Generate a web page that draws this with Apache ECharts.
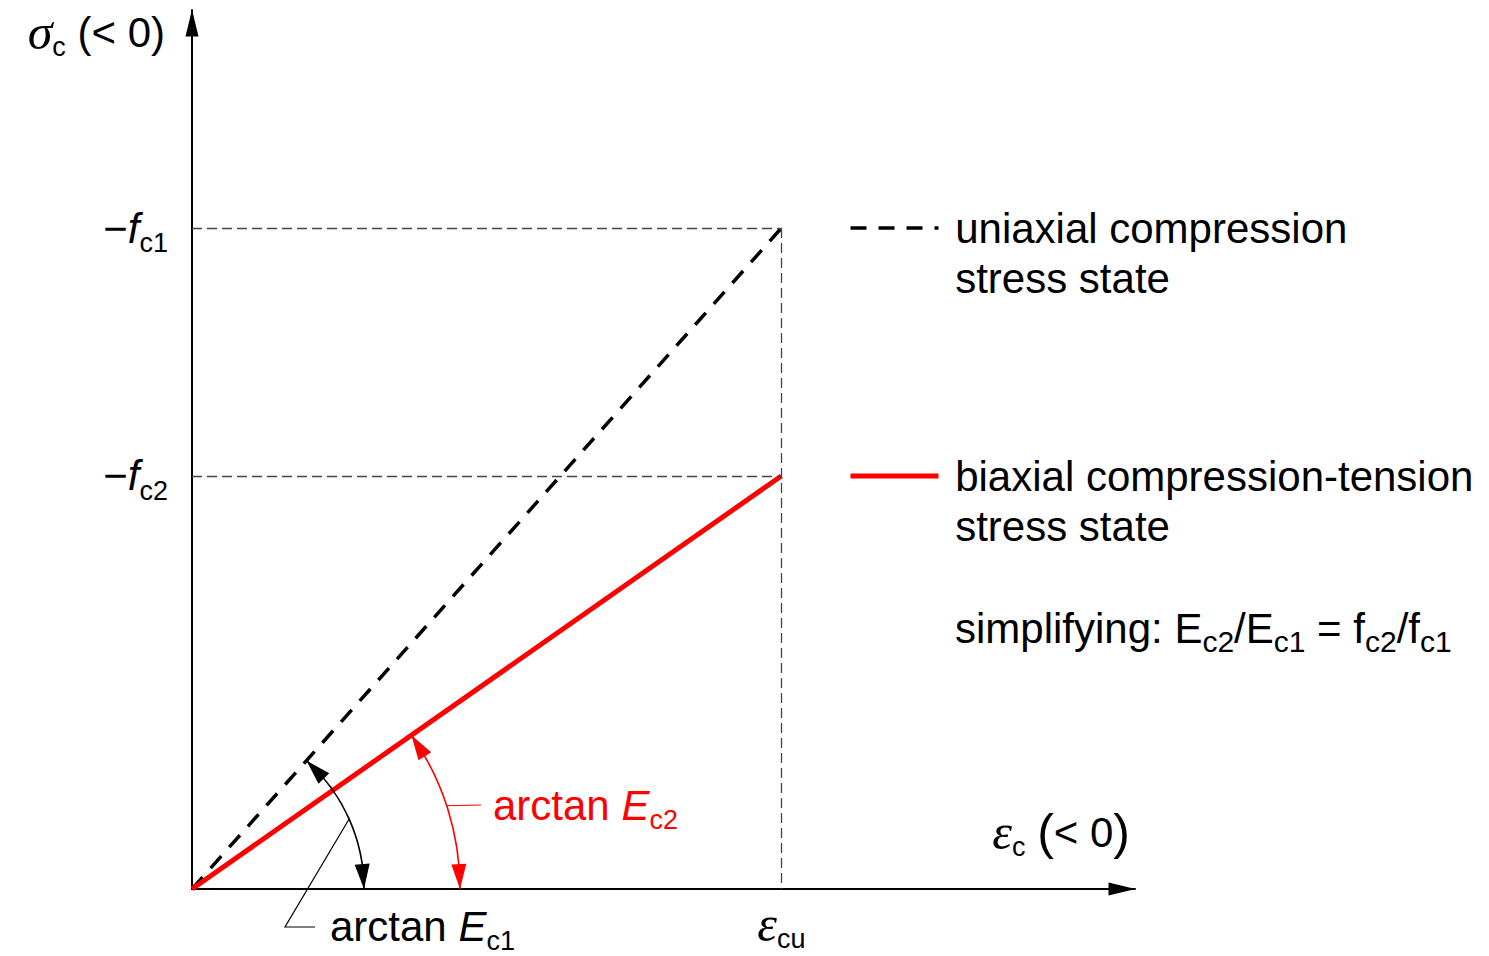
<!DOCTYPE html>
<html>
<head>
<meta charset="utf-8">
<title>Concrete stress-strain: uniaxial vs biaxial</title>
<script src="https://cdn.jsdelivr.net/npm/echarts@6/dist/echarts.min.js"></script>
<style>
  html, body { margin: 0; padding: 0; background: #ffffff; }
  #chart { width: 1489px; height: 956px; }
</style>
</head>
<body>
<div id="chart"></div>
<script>
// Normalised quantities: strain relative to eps_cu, stress relative to f_c1
const strainLimit = 1;          // eps_cu
const strengthUniaxial = 1;     // f_c1
const strengthBiaxial = 0.625;  // f_c2

const uniaxialCurve = [[0, 0], [strainLimit, strengthUniaxial]];
const biaxialCurve = [[0, 0], [strainLimit, strengthBiaxial]];

const seriesNames = [
  'uniaxial compression\nstress state',
  'biaxial compression-tension\nstress state'
];

const yTickValues = [strengthBiaxial, strengthUniaxial];
const yTickLabels = ['{m|\u2212}{i|f}{s|c2}', '{m|\u2212}{i|f}{s|c1}'];
const xTickValues = [strainLimit];
const xTickLabels = ['{g|\u03b5}{s|cu}'];

const angleLabels = ['{n|arctan }{i|E}{s|c1}', '{n|arctan }{i|E}{s|c2}'];
const noteText = 'simplifying: E{S|c2}/E{S|c1} = f{S|c2}/f{S|c1}';

const X_MAX = 1.6;
const Y_MAX = 1.33;

const SANS = '"Liberation Sans", Arial, Helvetica, sans-serif';
const GREEK = '"Liberation Serif", "Times New Roman", serif';
const RED = '#ff0000';

function richSet(color) {
  return {
    n: { fontFamily: SANS, fontSize: 42, color: color },
    m: { fontFamily: SANS, fontSize: 42, color: color },
    p: { fontFamily: SANS, fontSize: 50, color: color },
    i: { fontFamily: SANS, fontSize: 42, fontStyle: 'italic', color: color },
    g: { fontFamily: GREEK, fontSize: 50, fontStyle: 'italic', color: color },
    s: { fontFamily: SANS, fontSize: 27, color: color, padding: [30, 0, 0, 0] },
    S: { fontFamily: SANS, fontSize: 30, color: color, padding: [26, 0, 0, 0] }
  };
}

// Angle markers: arc radius (px), leader geometry (px offsets from origin), label placement
const angleMarkStyle = [
  { color: '#000000', radius: 172, leaderAngle: -24, leader: [[93, 38], [123, 38]], labelAt: [138, 37] },
  { color: RED, radius: 268, leaderAngle: -18.1, leader: [[289, -84]], labelAt: [301, -84] }
];

function arrowHead(o, r, angle, dir, color) {
  const L = 25, W = 7.5;
  const tip = [o[0] + r * Math.cos(angle), o[1] + r * Math.sin(angle)];
  const ba = angle - dir * L / r;
  const base = [o[0] + r * Math.cos(ba), o[1] + r * Math.sin(ba)];
  const dx = tip[0] - base[0], dy = tip[1] - base[1];
  const len = Math.sqrt(dx * dx + dy * dy);
  const px = -dy / len * W, py = dx / len * W;
  return {
    type: 'polygon',
    shape: { points: [tip, [base[0] + px, base[1] + py], [base[0] - px, base[1] - py]] },
    style: { fill: color, stroke: null }
  };
}

function renderAngleMark(params, api) {
  const st = angleMarkStyle[params.dataIndex];
  const o = api.coord([0, 0]);
  const p = api.coord([api.value(0), api.value(1)]);
  const a0 = Math.atan2(p[1] - o[1], p[0] - o[0]);
  const r = st.radius;
  const la = st.leaderAngle * Math.PI / 180;
  const leaderPts = [[o[0] + r * Math.cos(la), o[1] + r * Math.sin(la)]]
    .concat(st.leader.map(function (d) { return [o[0] + d[0], o[1] + d[1]]; }));
  return {
    type: 'group',
    children: [
      {
        type: 'arc',
        shape: { cx: o[0], cy: o[1], r: r, startAngle: a0, endAngle: 0, clockwise: true },
        style: { stroke: st.color, lineWidth: 1.6, fill: null }
      },
      arrowHead(o, r, a0, -1, st.color),
      arrowHead(o, r, 0, 1, st.color),
      {
        type: 'polyline',
        shape: { points: leaderPts },
        style: { stroke: st.color, lineWidth: 1.2, fill: null }
      },
      {
        type: 'text',
        x: o[0] + st.labelAt[0],
        y: o[1] + st.labelAt[1],
        style: {
          text: angleLabels[params.dataIndex],
          rich: richSet(st.color),
          fill: st.color,
          align: 'left',
          verticalAlign: 'middle'
        }
      }
    ]
  };
}

const chart = echarts.init(document.getElementById('chart'), null, { renderer: 'svg' });

chart.setOption({
  animation: false,
  backgroundColor: '#ffffff',
  title: {
    text: noteText,
    left: 955,
    top: 600,
    padding: 0,
    textStyle: {
      fontFamily: SANS, fontSize: 42, fontWeight: 'normal', color: '#000000',
      rich: richSet('#000000')
    }
  },
  legend: {
    orient: 'vertical',
    left: 848,
    top: 153,
    padding: 0,
    itemWidth: 88,
    itemHeight: 4,
    itemGap: 98,
    selectedMode: false,
    // blank first line keeps the icon level with the first text line;
    // a leading no-break space widens the gap after the icon
    formatter: function (name) {
      return '\u00a0\n' + name.split('\n').map(function (s) { return '\u00a0' + s; }).join('\n');
    },
    itemStyle: { opacity: 0 },
    textStyle: {
      fontFamily: SANS, fontSize: 42, lineHeight: 50, color: '#000000'
    },
    data: [
      { name: seriesNames[0], lineStyle: { width: 3.5 } },
      { name: seriesNames[1], lineStyle: { width: 5 } }
    ]
  },
  grid: {
    left: 192, right: 354, top: 10, bottom: 67,
    containLabel: false,
    outerBoundsMode: 'none'
  },
  xAxis: {
    type: 'value',
    min: 0,
    max: X_MAX,
    name: '{g|\u03b5}{s|c}{n|\u00a0}{p|(}{n|< 0}{p|)}',
    nameLocation: 'end',
    nameGap: -5,
    nameMoveOverlap: false,
    nameTextStyle: {
      align: 'right', verticalAlign: 'middle', padding: [0, 0, 114, 0],
      rich: richSet('#000000')
    },
    splitLine: { show: false },
    axisTick: { show: false },
    axisLine: {
      onZero: false,
      symbol: ['none', 'triangle'],
      symbolSize: [13, 27],
      symbolOffset: [0, -13],
      lineStyle: { color: '#000000', width: 2 }
    },
    axisLabel: {
      customValues: xTickValues,
      formatter: function (v) { return xTickLabels[xTickValues.indexOf(v)] || ''; },
      margin: 6,
      rich: richSet('#000000')
    }
  },
  yAxis: {
    type: 'value',
    min: 0,
    max: Y_MAX,
    name: '{g|\u03c3}{s|c}{n|\u00a0(< 0)}',
    nameLocation: 'end',
    nameGap: -22,
    nameMoveOverlap: false,
    nameTextStyle: {
      align: 'right', verticalAlign: 'middle', padding: [0, 27, 0, 0],
      rich: richSet('#000000')
    },
    splitLine: { show: false },
    axisTick: { show: false },
    axisLine: {
      onZero: false,
      symbol: ['none', 'triangle'],
      symbolSize: [13, 27],
      symbolOffset: [0, -13],
      lineStyle: { color: '#000000', width: 2 }
    },
    axisLabel: {
      customValues: yTickValues,
      formatter: function (v) { return yTickLabels[yTickValues.indexOf(v)] || ''; },
      margin: 24,
      rich: richSet('#000000')
    }
  },
  series: [
    {
      name: 'guides',
      type: 'line',
      data: [],
      z: 1,
      silent: true,
      markLine: {
        silent: true,
        symbol: 'none',
        label: { show: false },
        lineStyle: { color: '#444444', width: 1.3, type: [10, 5] },
        data: [
          [{ coord: [0, strengthUniaxial] }, { coord: [strainLimit, strengthUniaxial] }],
          [{ coord: [0, strengthBiaxial] }, { coord: [strainLimit, strengthBiaxial] }],
          [{ coord: [strainLimit, strengthUniaxial] }, { coord: [strainLimit, 0] }]
        ]
      }
    },
    {
      name: seriesNames[0],
      type: 'line',
      data: uniaxialCurve,
      symbol: 'none',
      silent: true,
      z: 3,
      itemStyle: { color: '#000000' },
      lineStyle: { color: '#000000', width: 3.5, type: [16, 12] }
    },
    {
      name: seriesNames[1],
      type: 'line',
      data: biaxialCurve,
      symbol: 'none',
      silent: true,
      z: 4,
      itemStyle: { color: RED },
      lineStyle: { color: RED, width: 5, type: 'solid' }
    },
    {
      name: 'angles',
      type: 'custom',
      silent: true,
      clip: false,
      z: 5,
      data: [uniaxialCurve[1], biaxialCurve[1]],
      renderItem: renderAngleMark
    }
  ]
});
</script>
</body>
</html>
